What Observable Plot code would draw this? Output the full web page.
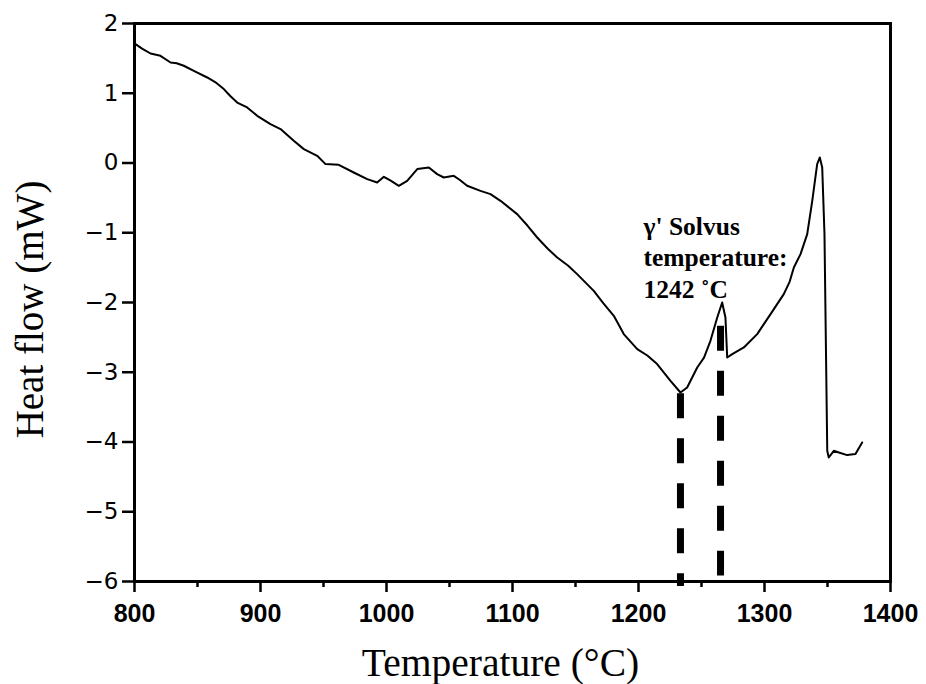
<!DOCTYPE html>
<html><head><meta charset="utf-8">
<script src="https://cdn.jsdelivr.net/npm/d3@7"></script>
<script src="https://cdn.jsdelivr.net/npm/@observablehq/plot@0.6"></script>
<style>body{margin:0;background:#fff}</style>
</head><body><div id="chart"></div>
<script>
// DSC curve
const temperature = [800.8, 806.0, 812.7, 820.6, 828.6, 833.5, 839.1, 847.1, 857.7, 864.0, 870.9, 876.0, 881.5, 889.4, 897.4, 907.9, 915.9, 926.4, 934.4, 945.0, 951.6, 962.1, 974.0, 984.7, 992.6, 997.9, 1003.0, 1009.8, 1016.4, 1024.4, 1033.6, 1040.2, 1045.5, 1053.4, 1058.0, 1064.0, 1074.6, 1082.5, 1090.5, 1103.7, 1112.0, 1119.6, 1128.0, 1135.5, 1144.0, 1151.3, 1164.5, 1172.0, 1180.4, 1188.3, 1199.0, 1207.0, 1214.8, 1225.4, 1233.3, 1238.6, 1246.6, 1252.0, 1257.1, 1262.5, 1266.4, 1269.0, 1270.4, 1274.4, 1283.6, 1294.2, 1304.8, 1315.3, 1320.0, 1323.3, 1328.6, 1333.9, 1337.9, 1341.8, 1343.9, 1345.8, 1347.6, 1349.8, 1351.0, 1355.0, 1359.0, 1365.6, 1372.2, 1377.5];
const heatFlow = [1.705, 1.640, 1.570, 1.537, 1.441, 1.430, 1.394, 1.322, 1.226, 1.160, 1.060, 0.960, 0.867, 0.796, 0.677, 0.558, 0.486, 0.318, 0.199, 0.103, -0.016, -0.026, -0.136, -0.231, -0.280, -0.198, -0.250, -0.327, -0.255, -0.087, -0.065, -0.159, -0.208, -0.184, -0.240, -0.327, -0.399, -0.446, -0.542, -0.733, -0.900, -1.068, -1.230, -1.355, -1.470, -1.593, -1.833, -2.010, -2.191, -2.453, -2.668, -2.760, -2.883, -3.123, -3.290, -3.219, -2.932, -2.790, -2.549, -2.215, -2.000, -2.215, -2.788, -2.740, -2.645, -2.453, -2.166, -1.880, -1.700, -1.498, -1.306, -1.019, -0.542, -0.016, 0.079, -0.065, -1.019, -4.126, -4.222, -4.126, -4.150, -4.188, -4.173, -4.007];

const xTicks = [800, 900, 1000, 1100, 1200, 1300, 1400];
const xMinorTicks = [850, 950, 1050, 1150, 1250, 1350];
const yTicks = [2, 1, 0, -1, -2, -3, -4, -5, -6];

// dashed marker lines
const markerTemps = [1233.3, 1265.1];
const markerTop = [-3.31, -2.34];
const markerBottom = [-6.07, -5.92];

const annotationText = "γ' Solvus\ntemperature:\n1242 ˚C";
const xLabel = "Temperature (°C)";
const yLabel = "Heat flow (mW)";

const curve = temperature.map((t, i) => ({t, h: heatFlow[i]}));
const markers = markerTemps.map((t, i) => ({t, y1: markerTop[i], y2: markerBottom[i]}));

const chart = Plot.plot({
  width: 926,
  height: 684,
  marginLeft: 134,
  marginRight: 36,
  marginTop: 23,
  marginBottom: 103,
  style: {background: "#fff", color: "#000"},
  x: {domain: [800, 1400]},
  y: {domain: [-6, 2]},
  marks: [
    Plot.frame({stroke: "#000", strokeWidth: 3}),
    Plot.axisX({ticks: xTicks, tickSize: 11, tickPadding: 12, strokeWidth: 2.5, label: null,
      fontFamily: "Liberation Sans, Arial, sans-serif", fontWeight: "bold", fontSize: 25, tickFormat: d => String(d)}),
    Plot.axisX({ticks: xMinorTicks, tickSize: 6, strokeWidth: 2.5, text: null, label: null}),
    Plot.axisY({ticks: yTicks, tickSize: 12, tickPadding: 4, strokeWidth: 2.5, label: null,
      fontFamily: "DejaVu Sans, sans-serif", fontSize: 23, tickFormat: d => d < 0 ? "\u2212" + Math.abs(d) : String(d)}),
    Plot.line(curve, {x: "t", y: "h", stroke: "#000", strokeWidth: 2}),
    Plot.ruleX(markers, {x: "t", y1: "y1", y2: "y2", stroke: "#000", strokeWidth: 7, strokeDasharray: "25,20"}),
    Plot.text([annotationText], {x: 1204, y: -0.72, text: d => d, textAnchor: "start", lineAnchor: "top",
      lineHeight: 1.22, fontFamily: "Liberation Serif, Times New Roman, serif", fontWeight: "bold", fontSize: 25.5, fill: "#000"}),
    Plot.text([xLabel], {frameAnchor: "bottom", text: d => d, textAnchor: "middle", lineAnchor: "bottom", dx: -12, dy: 94,
      fontFamily: "Liberation Serif, Times New Roman, serif", fontSize: 39.5, fill: "#000"}),
    Plot.text([yLabel], {frameAnchor: "left", text: d => d, rotate: -90, textAnchor: "middle", lineAnchor: "bottom", dx: -92, dy: 7,
      fontFamily: "Liberation Serif, Times New Roman, serif", fontSize: 39, fill: "#000"})
  ]
});
document.getElementById("chart").appendChild(chart);
</script>
</body></html>
